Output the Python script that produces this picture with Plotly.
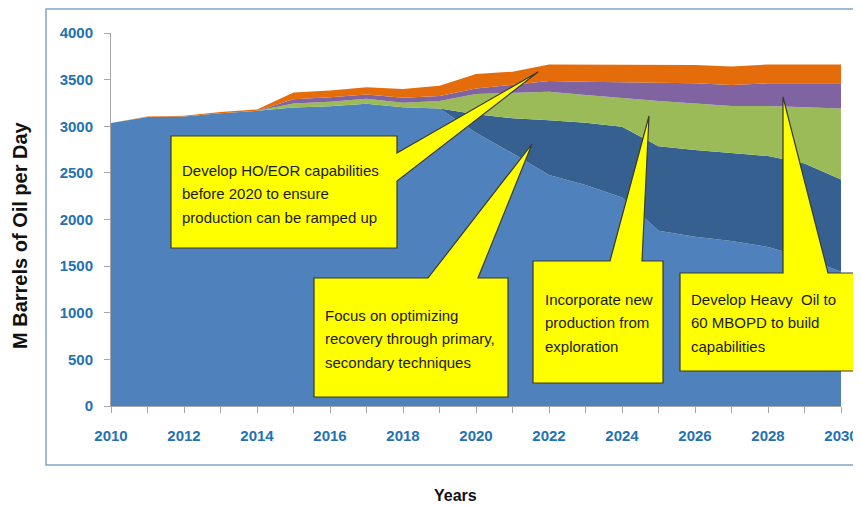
import plotly.graph_objects as go

years = list(range(2010, 2031))
primary = [3035, 3100, 3105, 3140, 3165, 3200, 3215, 3240, 3205, 3190, 2930,
           2710, 2477, 2370, 2235, 1880, 1815, 1770, 1705, 1590, 1440]
optimized = [0, 0, 0, 0, 0, 0, 0, 0, 0, 0, 200,
             375, 588, 668, 760, 905, 930, 945, 975, 1010, 990]
exploration = [0, 0, 0, 0, 0, 45, 49, 55, 47, 80, 216,
               275, 305, 297, 305, 485, 500, 502, 537, 603, 760]
heavy_oil = [0, 0, 0, 0, 0, 45, 46, 45, 54, 55, 59,
             82, 115, 143, 170, 197, 215, 225, 243, 257, 270]
eor = [0, 5, 8, 12, 15, 72, 73, 78, 93, 109, 155,
       143, 178, 185, 193, 189, 196, 198, 203, 203, 203]

series = [
    ("Primary/Secondary", primary, "#4F81BD"),
    ("Optimized recovery", optimized, "#36608F"),
    ("Exploration", exploration, "#9BBB59"),
    ("Heavy Oil", heavy_oil, "#8064A2"),
    ("HO/EOR", eor, "#E46C0A"),
]

y_ticks = [0, 500, 1000, 1500, 2000, 2500, 3000, 3500, 4000]
x_ticks = list(range(2010, 2031, 2))

fig = go.Figure()
for name, vals, col in series:
    fig.add_trace(go.Scatter(x=years, y=vals, name=name, mode="lines",
                             stackgroup="one", line=dict(width=0, color=col),
                             fillcolor=col, hoverinfo="x+y+name"))

# screen pixel -> paper helpers (plot area on screen: x 111..841, y 33..406)
L, R, T, B = 111, 841, 33, 406
OFF = 8  # page body margin
W, H = 861 - OFF, 505 - OFF
def px(x):
    return (x - L) / (R - L)
def py(y):
    return (B - y) / (B - T)

def path_str(pts):
    return "M " + " L ".join(f"{px(x):.5f},{py(y):.5f}" for x, y in pts) + " Z"

callouts = [
    [(171, 136), (397, 136), (397, 153), (538, 72), (397, 181), (397, 248), (171, 248)],
    [(314, 278), (428, 278), (532, 144), (478, 278), (508, 278), (508, 397), (314, 397)],
    [(533, 261), (610, 261), (649, 116), (642, 261), (663, 261), (663, 383), (533, 383)],
    [(680, 273), (783, 273), (783, 97), (828, 273), (857, 273), (857, 371), (680, 371)],
]
shapes = []
for pts in callouts:
    shapes.append(dict(type="path", xref="paper", yref="paper", path=path_str(pts),
                       fillcolor="#FFFF00", line=dict(color="#3A3A2A", width=1.2),
                       layer="above"))
shapes.append(dict(type="rect", xref="paper", yref="paper",
                   x0=px(46), x1=px(875), y0=py(465), y1=py(9),
                   line=dict(color="#7FA7C9", width=1.5), fillcolor="rgba(0,0,0,0)",
                   layer="below"))

texts = [
    (180, ["Develop HO/EOR capabilities", "before 2020 to ensure", "production can be ramped up"], 170),
    (323, ["Focus on optimizing", "recovery through primary,", "secondary techniques"], 315),
    (543, ["Incorporate new", "production from", "exploration"], 299),
    (689, ["Develop Heavy  Oil to", "60 MBOPD to build", "capabilities"], 299),
]
annotations = []
cfont = dict(family="Liberation Sans, Arial", size=15, color="#1a1a1a")
for x0, lines, y0 in texts:
    for i, line in enumerate(lines):
        annotations.append(dict(xref="paper", yref="paper", x=px(x0), y=py(y0 + i * 23.5),
                                text=line, showarrow=False, xanchor="left", yanchor="middle",
                                font=cfont))
annotations.append(dict(xref="paper", yref="paper", x=px(20), y=py(235),
                        text="<b>M Barrels of Oil per Day</b>", textangle=-90,
                        showarrow=False, xanchor="center", yanchor="middle",
                        font=dict(family="Liberation Sans, Arial", size=20, color="#111")))
annotations.append(dict(xref="paper", yref="paper", x=px(455), y=py(495),
                        text="<b>Years</b>", showarrow=False, xanchor="center", yanchor="middle",
                        font=dict(family="Liberation Sans, Arial", size=16, color="#111")))

tickfont = dict(family="Liberation Sans, Arial", size=15, color="#2471B3", weight="bold")

fig.update_layout(
    width=W, height=H,
    margin=dict(l=L - OFF, r=W - (R - OFF), t=T - OFF, b=H - (B - OFF)),
    paper_bgcolor="white", plot_bgcolor="white",
    showlegend=False,
    shapes=shapes, annotations=annotations,
    xaxis=dict(range=[2010, 2030], tickvals=x_ticks, automargin=False,
               showgrid=False, zeroline=False, showline=True, linecolor="#A6A6A6",
               ticks="outside", tickcolor="#A6A6A6", ticklen=6, ticklabelstandoff=10,
               minor=dict(ticks="outside", tickcolor="#A6A6A6", ticklen=6, dtick=1, tick0=2010),
               tickfont=tickfont, fixedrange=True),
    yaxis=dict(range=[0, 4000], tickvals=y_ticks, automargin=False,
               showgrid=False, zeroline=False,
               showline=True, linecolor="#A6A6A6", ticks="outside", tickcolor="#A6A6A6",
               ticklen=6, ticklabelstandoff=8, tickfont=tickfont, fixedrange=True),
)

fig.write_html("out.html")
